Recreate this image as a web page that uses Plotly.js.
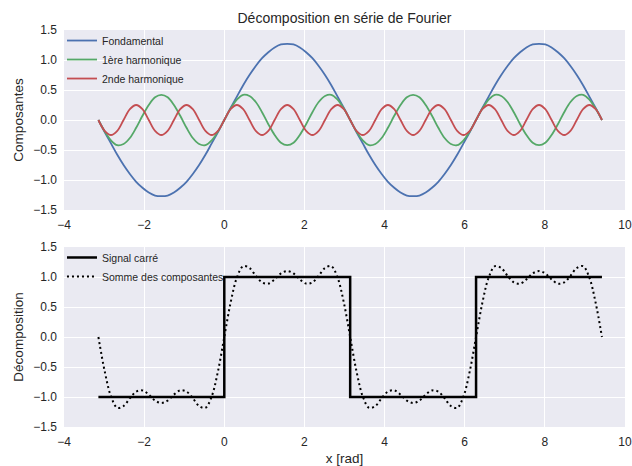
<!DOCTYPE html>
<html>
<head>
<meta charset="utf-8">
<script src="https://cdn.plot.ly/plotly-3.0.1.min.js"></script>
<style>html,body{margin:0;padding:0;background:#fff;}#chart{width:632px;height:466px;}</style>
</head>
<body>
<div id="chart"></div>
<script>
// x values in radians, from -pi to 3*pi
const xRad = [-3.1416, -2.9845, -2.8274, -2.6704, -2.5133, -2.3562, -2.1991, -2.0420, -1.8850, -1.7279,
  -1.5708, -1.4137, -1.2566, -1.0996, -0.9425, -0.7854, -0.6283, -0.4712, -0.3142, -0.1571,
  0, 0.1571, 0.3142, 0.4712, 0.6283, 0.7854, 0.9425, 1.0996, 1.2566, 1.4137,
  1.5708, 1.7279, 1.8850, 2.0420, 2.1991, 2.3562, 2.5133, 2.6704, 2.8274, 2.9845,
  3.1416, 3.2987, 3.4558, 3.6128, 3.7699, 3.9270, 4.0841, 4.2412, 4.3982, 4.5553,
  4.7124, 4.8695, 5.0265, 5.1836, 5.3407, 5.4978, 5.6549, 5.8119, 5.9690, 6.1261,
  6.2832, 6.4403, 6.5973, 6.7544, 6.9115, 7.0686, 7.2257, 7.3827, 7.5398, 7.6969,
  7.8540, 8.0111, 8.1681, 8.3252, 8.4823, 8.6394, 8.7965, 8.9535, 9.1106, 9.2677, 9.4248];

const fondamental = [0, -0.20, -0.39, -0.58, -0.75, -0.90, -1.03, -1.13, -1.21, -1.26, -1.27, -1.26, -1.21, -1.13, -1.03, -0.90, -0.75, -0.58, -0.39, -0.20, 0,
  0.20, 0.39, 0.58, 0.75, 0.90, 1.03, 1.13, 1.21, 1.26, 1.27, 1.26, 1.21, 1.13, 1.03, 0.90, 0.75, 0.58, 0.39, 0.20, 0,
  -0.20, -0.39, -0.58, -0.75, -0.90, -1.03, -1.13, -1.21, -1.26, -1.27, -1.26, -1.21, -1.13, -1.03, -0.90, -0.75, -0.58, -0.39, -0.20, 0,
  0.20, 0.39, 0.58, 0.75, 0.90, 1.03, 1.13, 1.21, 1.26, 1.27, 1.26, 1.21, 1.13, 1.03, 0.90, 0.75, 0.58, 0.39, 0.20, 0];

const harmonique1 = [0, -0.19, -0.34, -0.42, -0.40, -0.30, -0.13, 0.07, 0.25, 0.38, 0.42, 0.38, 0.25, 0.07, -0.13, -0.30, -0.40, -0.42, -0.34, -0.19, 0,
  0.19, 0.34, 0.42, 0.40, 0.30, 0.13, -0.07, -0.25, -0.38, -0.42, -0.38, -0.25, -0.07, 0.13, 0.30, 0.40, 0.42, 0.34, 0.19, 0,
  -0.19, -0.34, -0.42, -0.40, -0.30, -0.13, 0.07, 0.25, 0.38, 0.42, 0.38, 0.25, 0.07, -0.13, -0.30, -0.40, -0.42, -0.34, -0.19, 0,
  0.19, 0.34, 0.42, 0.40, 0.30, 0.13, -0.07, -0.25, -0.38, -0.42, -0.38, -0.25, -0.07, 0.13, 0.30, 0.40, 0.42, 0.34, 0.19, 0];

const harmonique2 = [0, -0.18, -0.25, -0.18, 0, 0.18, 0.25, 0.18, 0, -0.18, -0.25, -0.18, 0, 0.18, 0.25, 0.18, 0, -0.18, -0.25, -0.18, 0,
  0.18, 0.25, 0.18, 0, -0.18, -0.25, -0.18, 0, 0.18, 0.25, 0.18, 0, -0.18, -0.25, -0.18, 0, 0.18, 0.25, 0.18, 0,
  -0.18, -0.25, -0.18, 0, 0.18, 0.25, 0.18, 0, -0.18, -0.25, -0.18, 0, 0.18, 0.25, 0.18, 0, -0.18, -0.25, -0.18, 0,
  0.18, 0.25, 0.18, 0, -0.18, -0.25, -0.18, 0, 0.18, 0.25, 0.18, 0, -0.18, -0.25, -0.18, 0, 0.18, 0.25, 0.18, 0];

const sommeComposantes = [0, -0.57, -0.99, -1.18, -1.15, -1.02, -0.91, -0.89, -0.96, -1.06, -1.10, -1.06, -0.96, -0.89, -0.91, -1.02, -1.15, -1.18, -0.99, -0.57, 0,
  0.57, 0.99, 1.18, 1.15, 1.02, 0.91, 0.89, 0.96, 1.06, 1.10, 1.06, 0.96, 0.89, 0.91, 1.02, 1.15, 1.18, 0.99, 0.57, 0,
  -0.57, -0.99, -1.18, -1.15, -1.02, -0.91, -0.89, -0.96, -1.06, -1.10, -1.06, -0.96, -0.89, -0.91, -1.02, -1.15, -1.18, -0.99, -0.57, 0,
  0.57, 0.99, 1.18, 1.15, 1.02, 0.91, 0.89, 0.96, 1.06, 1.10, 1.06, 0.96, 0.89, 0.91, 1.02, 1.15, 1.18, 0.99, 0.57, 0];

const carreX = [-3.1416, 0, 0, 3.1416, 3.1416, 6.2832, 6.2832, 9.4248];
const carreY = [-1, -1, 1, 1, -1, -1, 1, 1];

const xTicks = [-4, -2, 0, 2, 4, 6, 8, 10];
const yTicks = [-1.5, -1.0, -0.5, 0.0, 0.5, 1.0, 1.5];

const FONT = 'Liberation Sans, Arial, sans-serif';
const TXT = '#262626';

const traces = [
  {x: xRad, y: fondamental, name: 'Fondamental', mode: 'lines', line: {color: '#4C72B0', width: 1.8, shape: 'spline'}, xaxis: 'x', yaxis: 'y', legend: 'legend'},
  {x: xRad, y: harmonique1, name: '1ère harmonique', mode: 'lines', line: {color: '#55A868', width: 1.8, shape: 'spline'}, xaxis: 'x', yaxis: 'y', legend: 'legend'},
  {x: xRad, y: harmonique2, name: '2nde harmonique', mode: 'lines', line: {color: '#C44E52', width: 1.8, shape: 'spline'}, xaxis: 'x', yaxis: 'y', legend: 'legend'},
  {x: carreX, y: carreY, name: 'Signal carré', mode: 'lines', line: {color: '#000000', width: 2.5}, xaxis: 'x2', yaxis: 'y2', legend: 'legend2'},
  {x: xRad, y: sommeComposantes, name: 'Somme des composantes', mode: 'lines', line: {color: '#000000', width: 2, dash: '2px,3px', shape: 'spline'}, xaxis: 'x2', yaxis: 'y2', legend: 'legend2'}
];

function xAxis(anchor, withTitle) {
  const a = {
    range: [-4, 10], tickvals: xTicks, ticktext: xTicks.map(v => v < 0 ? '\u2212' + Math.abs(v) : String(v)),
    showgrid: true, gridcolor: '#FFFFFF', gridwidth: 1, zeroline: false, showline: false, ticks: '',
    tickfont: {family: FONT, size: 12, color: TXT}, anchor: anchor, ticklabelstandoff: 6
  };
  if (withTitle) a.title = {text: 'x [rad]', font: {family: FONT, size: 13.5, color: TXT}, standoff: 9};
  return a;
}
function yAxis(domain, anchor, title) {
  return {
    domain: domain, range: [-1.5, 1.5], tickvals: yTicks, tickformat: '.1f',
    showgrid: true, gridcolor: '#FFFFFF', gridwidth: 1, zeroline: false, showline: false, ticks: '',
    tickfont: {family: FONT, size: 12, color: TXT}, anchor: anchor, ticklabelstandoff: 6,
    title: {text: title, font: {family: FONT, size: 13.5, color: TXT}, standoff: 6}
  };
}

const layout = {
  width: 632, height: 466,
  margin: {l: 64, r: 7, t: 30, b: 39, pad: 0},
  paper_bgcolor: '#FFFFFF', plot_bgcolor: '#EAEAF2',
  font: {family: FONT, color: TXT},
  title: {text: 'Décomposition en série de Fourier', font: {family: FONT, size: 14, color: TXT},
    x: 0.5, xref: 'paper', xanchor: 'center', y: 1 - 18 / 466, yref: 'container', yanchor: 'middle'},
  xaxis: xAxis('y', false),
  yaxis: yAxis([0.5466, 1], 'x', 'Composantes'),
  xaxis2: xAxis('y2', true),
  yaxis2: yAxis([0, 0.4534], 'x2', 'Décomposition'),
  legend: {x: -0.0036, y: 1.010, xanchor: 'left', yanchor: 'top', bgcolor: 'rgba(0,0,0,0)', borderwidth: 0,
    font: {family: FONT, size: 10.5, color: TXT}},
  legend2: {x: -0.0036, y: 0.4635, xanchor: 'left', yanchor: 'top', bgcolor: 'rgba(0,0,0,0)', borderwidth: 0,
    font: {family: FONT, size: 10.5, color: TXT}},
  showlegend: true
};

Plotly.newPlot('chart', traces, layout, {displayModeBar: false, staticPlot: true});
</script>
</body>
</html>
